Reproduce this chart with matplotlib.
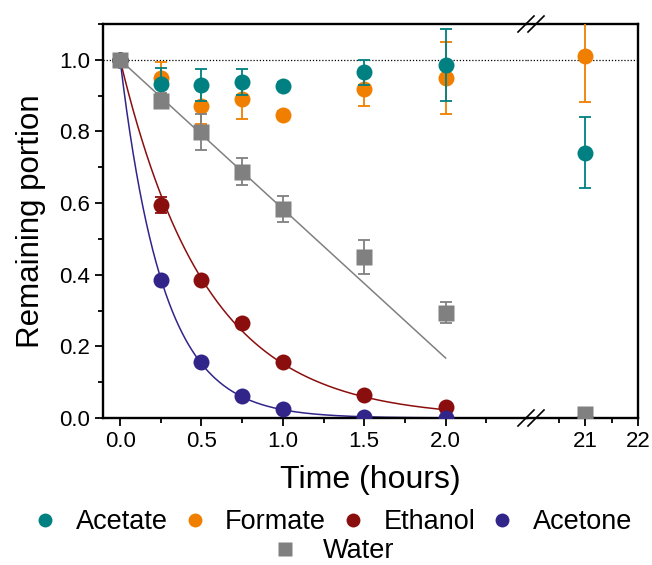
import numpy as np
import matplotlib
matplotlib.use('Agg')
import matplotlib.pyplot as plt
from matplotlib.lines import Line2D
from matplotlib.ticker import MultipleLocator, FixedLocator, FormatStrFormatter

plt.rcParams['font.family'] = ['Liberation Sans', 'DejaVu Sans']

# data
time = [0, 0.25, 0.5, 0.75, 1.0, 1.5, 2.0, 21]
acetate = [1.0, 0.933, 0.930, 0.937, 0.928, 0.965, 0.985, 0.741]
acetate_err = [0, 0.045, 0.044, 0.036, 0.01, 0.035, 0.10, 0.10]
formate = [1.0, 0.949, 0.872, 0.890, 0.846, 0.918, 0.950, 1.011]
formate_err = [0, 0.044, 0.050, 0.054, 0.01, 0.048, 0.10, 0.13]
ethanol = [1.0, 0.595, 0.384, 0.266, 0.156, 0.063, 0.030, 0.0]
ethanol_err = [0, 0.022, 0.01, 0.01, 0.01, 0.01, 0.01, 0]
acetone = [1.0, 0.385, 0.156, 0.061, 0.025, 0.002, 0.0, 0.0]
acetone_err = [0, 0.01, 0.01, 0.005, 0.005, 0, 0, 0]
water = [1.0, 0.886, 0.798, 0.688, 0.583, 0.449, 0.294, 0.012]
water_err = [0, 0.02, 0.050, 0.038, 0.036, 0.048, 0.030, 0.01]

c_acetate = '#008080'
c_formate = '#F07F00'
c_ethanol = '#8B0E0E'
c_acetone = '#31258A'
c_water = '#808080'

W, H = 652, 565
fig = plt.figure(figsize=(W / 100, H / 100), dpi=100)

def fx(px):
    return px / W

def fy(py):
    return 1 - py / H

x0, xb, x1 = 103, 527, 638
ytop, ybot = 24, 418
axL = fig.add_axes([fx(x0), fy(ybot), fx(xb - x0), fy(ytop) - fy(ybot)])
axR = fig.add_axes([fx(xb), fy(ybot), fx(x1 - xb), fy(ytop) - fy(ybot)])

t = np.array(time)
# exponential fits (through 1 at t=0), least squares via grid search
def exp_fit(y):
    y = np.array(y)
    m = t <= 2
    ks = np.linspace(0.2, 8, 7801)
    sse = ((np.exp(-np.outer(ks, t[m])) - y[m]) ** 2).sum(axis=1)
    return ks[np.argmin(sse)]

k_eth = exp_fit(ethanol)
k_ace = exp_fit(acetone)
# linear fit for water through (0, 1), first hour only
wy = np.array(water)
mw = t <= 1
slope = np.sum(t[mw] * (wy[mw] - 1)) / np.sum(t[mw] ** 2)

tt = np.linspace(0, 2, 300)
axL.plot(tt, np.exp(-k_eth * tt), color=c_ethanol, lw=1.1, zorder=2)
axL.plot(tt, np.exp(-k_ace * tt), color=c_acetone, lw=1.1, zorder=2)
axL.plot(tt, 1 + slope * tt, color=c_water, lw=1.1, zorder=2)

series = [
    (formate, formate_err, c_formate, 'o', 3),
    (acetate, acetate_err, c_acetate, 'o', 4),
    (ethanol, ethanol_err, c_ethanol, 'o', 5),
    (acetone, acetone_err, c_acetone, 'o', 6),
    (water, water_err, c_water, 's', 7),
]
for ax in (axL, axR):
    ax.axhline(1.0, color='black', lw=0.9, ls=(0, (1, 1.5)), zorder=1)
    for y, e, c, m, z in series:
        ax.errorbar(time, y, yerr=e, fmt=m, color=c, ms=11.5 if m == 'o' else 11,
                    mec='none', elinewidth=1.3, capsize=4.5, capthick=1.3, zorder=z)
    ax.set_ylim(0, 1.1)
    for s in ax.spines.values():
        s.set_linewidth(1.7)
    ax.tick_params(axis='both', which='major', direction='out', length=5.5, width=1.3,
                   labelsize=16, pad=4)
    ax.tick_params(axis='both', which='minor', direction='out', length=3.5, width=1.3)

axL.set_xlim(-0.105, 2.5)
axR.set_xlim(19.89, 22)
axL.spines['right'].set_visible(False)
axR.spines['left'].set_visible(False)
axR.tick_params(axis='y', which='both', left=False, labelleft=False)

axL.xaxis.set_major_locator(FixedLocator([0, 0.5, 1.0, 1.5, 2.0]))
axL.xaxis.set_minor_locator(FixedLocator([0.25, 0.75, 1.25, 1.75, 2.25]))
axL.xaxis.set_major_formatter(FormatStrFormatter('%.1f'))
axL.yaxis.set_major_locator(MultipleLocator(0.2))
axL.yaxis.set_minor_locator(MultipleLocator(0.1))
axL.yaxis.set_major_formatter(FormatStrFormatter('%.1f'))
axR.xaxis.set_major_locator(FixedLocator([21, 22]))
axR.xaxis.set_minor_locator(FixedLocator([20.5, 21.5]))

axL.set_ylabel('Remaining portion', fontsize=22.5, labelpad=9)
fig.text(fx((x0 + x1) / 2), fy(480), 'Time (hours)', fontsize=23, ha='center', va='center')

# break marks
for yc in (ytop, ybot):
    for dx in (-5, 5):
        cx = 531 + dx
        fig.add_artist(Line2D([fx(cx - 8), fx(cx + 8)], [fy(yc + 8), fy(yc - 8)],
                              color='black', lw=1.2, transform=fig.transFigure))

def handle(c, m, ms):
    return Line2D([], [], ls='none', marker=m, color=c, ms=ms, mec='none')

h1 = [handle(c_acetate, 'o', 10), handle(c_formate, 'o', 10),
      handle(c_ethanol, 'o', 10), handle(c_acetone, 'o', 10)]
fig.legend(h1, ['Acetate', 'Formate', 'Ethanol', 'Acetone'], ncol=4,
           loc='center', bbox_to_anchor=(fx(332), fy(522)), frameon=False,
           fontsize=19.5, handlelength=1.0, handletextpad=0.62,
           columnspacing=0.5, borderpad=0, borderaxespad=0)
fig.legend([handle(c_water, 's', 9.5)], ['Water'], loc='center',
           bbox_to_anchor=(fx(333), fy(551)), frameon=False, fontsize=19.5,
           handlelength=1.0, handletextpad=0.9, borderpad=0, borderaxespad=0)

fig.savefig('out.png', dpi=100)
